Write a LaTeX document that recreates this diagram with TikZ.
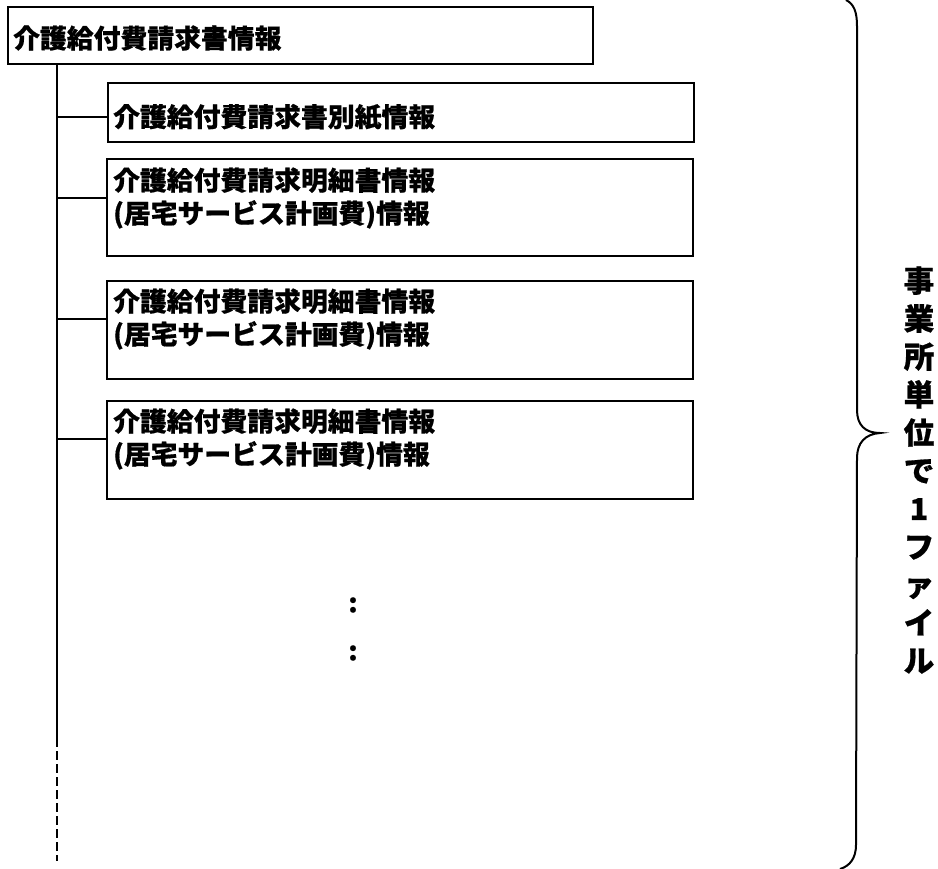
\documentclass[tikz,border=0pt]{standalone}
\usepackage{fontspec}
\newfontfamily\jpfont{Noto Sans CJK JP}[FakeStretch=1.02, BoldFeatures={FakeBold=0.6}]

\begin{document}
\begin{tikzpicture}[x=1pt,y=-1pt,
    box/.style={draw, line width=2.2pt, rectangle, anchor=north west, inner sep=0pt, minimum width=586pt},
    jtext/.style={anchor=west, inner sep=0pt, align=left, font=\jpfont\bfseries\fontsize{26.3}{33}\selectfont},
    link/.style={line width=1.8pt}]
        \useasboundingbox (0,0) rectangle (938,869);

        % === FILE HEADER ===
        \node[box, minimum width=585pt, minimum height=57pt] (head) at (7,6) {};
        \node[jtext] (headt) at (13,38) {介護給付費請求書情報};

        % === RECORD BOXES ===
        \node[box, minimum height=59pt] (sep) at (107,82) {};
        \node[jtext] (sept) at (113,117) {介護給付費請求書別紙情報};
        \node[box, minimum height=97pt] (det1) at (106,158) {};
        \node[jtext] (det1t) at (113,198) {介護給付費請求明細書情報\\(居宅サービス計画費)情報};
        \node[box, minimum height=98pt] (det2) at (106,280) {};
        \node[jtext] (det2t) at (113,319) {介護給付費請求明細書情報\\(居宅サービス計画費)情報};
        \node[box, minimum height=98pt] (det3) at (106,400) {};
        \node[jtext] (det3t) at (113,439) {介護給付費請求明細書情報\\(居宅サービス計画費)情報};

        % === TRUNK ===
        \coordinate (tr) at (57,738);
        \coordinate (trend) at (57,861);
        \draw[link] (head.south -| tr) -- (tr);
        \draw[link, dash pattern=on 9pt off 4pt] (tr) -- (trend);
        \foreach \b in {sep,det1,det2,det3}
            \draw[link] (\b t.west -| tr) -- (\b t.west -| \b.west);

        % === ELLIPSIS ===
        \node[jtext, anchor=center] (dots1) at (353,605) {:};
        \node[jtext, anchor=center] (dots2) at (353,653) {:};

        % === BRACE ===
        \draw[line width=2pt] (846,0) .. controls (854,4) and (857,12) .. (857,26)
            -- (857,410) .. controls (857,425) and (865,433) .. (880,433)
            .. controls (865,434) and (857,443) .. (857,458)
            -- (856,845) .. controls (856,858) and (850,866) .. (840,869);
        \node[inner sep=0pt, align=center, font=\jpfont\bfseries\fontsize{30}{38}\selectfont] (unit) at (919,470)
            {事\\業\\所\\単\\位\\で\\1\\フ\\ァ\\イ\\ル};

    \end{tikzpicture}
\end{document}
